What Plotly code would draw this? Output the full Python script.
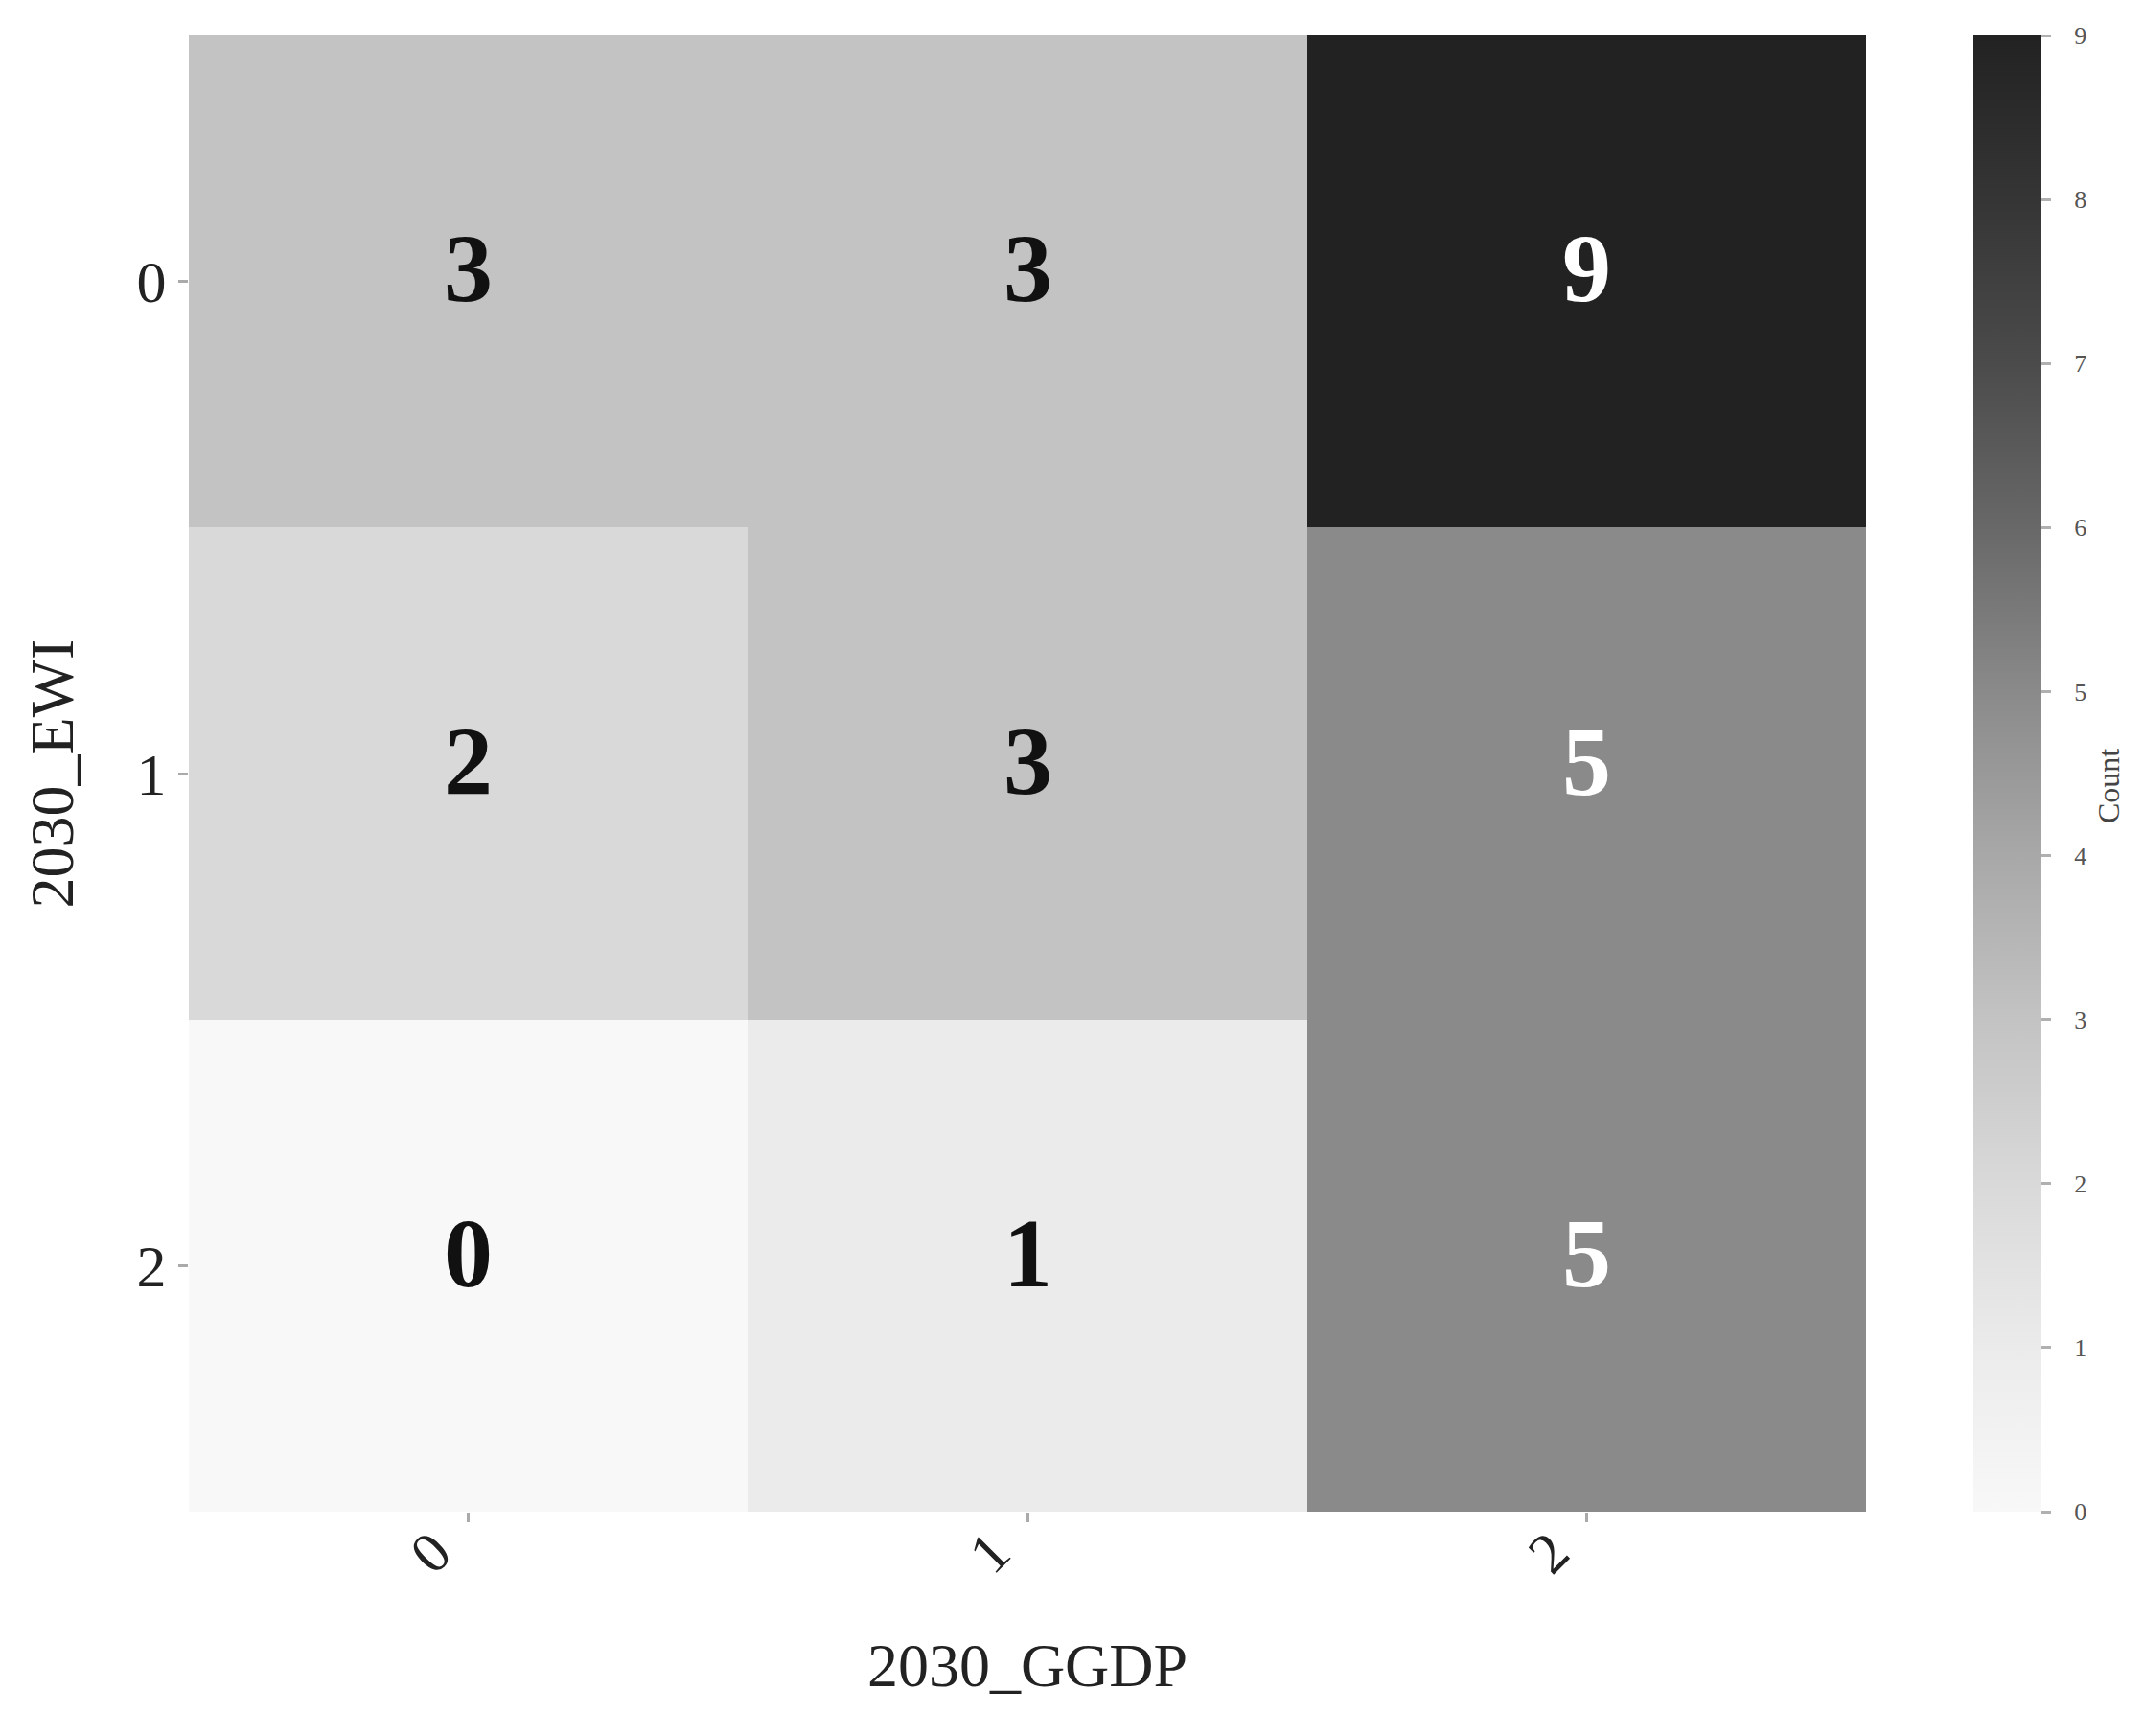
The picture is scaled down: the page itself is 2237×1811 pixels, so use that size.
import plotly.graph_objects as go

x_labels = ["0", "1", "2"]
y_labels = ["0", "1", "2"]
counts = [
    [3, 3, 9],
    [2, 3, 5],
    [0, 1, 5],
]
x_title = "2030_GGDP"
y_title = "2030_EWI"
cbar_title = "Count"
cbar_ticks = [0, 1, 2, 3, 4, 5, 6, 7, 8, 9]

FONT = "Liberation Serif"
zmin, zmax = 0, 9

greys = [
    [0.0, "#f8f8f8"],
    [1 / 9, "#ebebeb"],
    [2 / 9, "#d9d9d9"],
    [3 / 9, "#c3c3c3"],
    [4 / 9, "#a8a8a8"],
    [5 / 9, "#8a8a8a"],
    [6 / 9, "#686868"],
    [7 / 9, "#4b4b4b"],
    [8 / 9, "#353535"],
    [1.0, "#222222"],
]

L, R, T, B = 189, 298, 29, 242
W, H = 2237, 1811
plot_w = W - L - R
plot_h = H - T - B

fig = go.Figure()
fig.add_trace(go.Heatmap(
    z=counts, x=x_labels, y=y_labels,
    zmin=zmin, zmax=zmax, colorscale=greys,
    xgap=0, ygap=0,
    hoverinfo="skip",
    colorbar=dict(
        x=(2051 - L) / plot_w, xanchor="left", xref="paper", xpad=0,
        y=0.5, yanchor="middle", len=1.0, lenmode="fraction", ypad=0,
        thickness=71, outlinewidth=0,
        tickvals=cbar_ticks,
        ticktext=["\u00a0\u00a0\u00a0" + str(v) for v in cbar_ticks],
        ticks="outside", ticklen=10, tickwidth=3, tickcolor="#b0b0b0",
        tickfont=dict(family=FONT, size=26, color="#555555"),
        title=dict(text="", side="right"),
    ),
))

annotations = []
for i, row in enumerate(counts):
    for j, v in enumerate(row):
        frac = (v - zmin) / (zmax - zmin)
        annotations.append(dict(
            x=x_labels[j], y=y_labels[i], xref="x", yref="y", yshift=13,
            text=f"<b>{v}</b>", showarrow=False,
            font=dict(family=FONT, size=102,
                      color="#ffffff" if frac > 0.5 else "#111111"),
        ))
annotations.append(dict(
    x=(2192 - L) / plot_w, y=(H - B - 812) / plot_h,
    xref="paper", yref="paper",
    text=cbar_title, showarrow=False, textangle=-90,
    xanchor="center", yanchor="middle",
    font=dict(family=FONT, size=32, color="#444444"),
))

fig.update_layout(
    width=W, height=H,
    margin=dict(l=L, r=R, t=T, b=B, autoexpand=False),
    paper_bgcolor="white", plot_bgcolor="white",
    annotations=annotations,
    font=dict(family=FONT, color="#222222"),
)
fig.update_xaxes(
    type="category", tickangle=-45,
    ticks="outside", ticklen=10, tickwidth=3, tickcolor="#aaaaaa",
    ticklabelshift=-36, ticklabelstandoff=-28,
    tickfont=dict(family=FONT, size=60, color="#222222"),
    title=dict(text=x_title, font=dict(family=FONT, size=64, color="#222222"), standoff=61),
    showgrid=False, zeroline=False, showline=False,
)
fig.update_yaxes(
    type="category", autorange="reversed",
    ticks="outside", ticklen=10, tickwidth=3, tickcolor="#aaaaaa",
    tickfont=dict(family=FONT, size=62, color="#222222"),
    title=dict(text=y_title, font=dict(family=FONT, size=64, color="#222222"), standoff=45),
    showgrid=False, zeroline=False, showline=False,
)

fig.write_html("out.html")
